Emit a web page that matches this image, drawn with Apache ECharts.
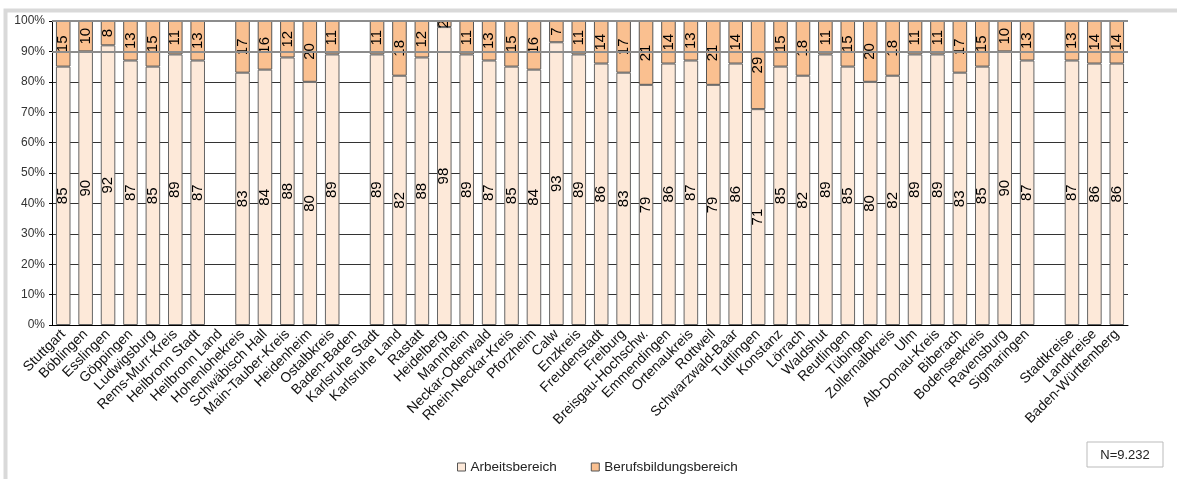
<!DOCTYPE html>
<html>
<head>
<meta charset="utf-8">
<script src="https://cdn.jsdelivr.net/npm/echarts@6/dist/echarts.min.js"></script>
<style>
html,body{margin:0;padding:0;background:#fff;}
#chart{width:1177px;height:479px;}
</style>
</head>
<body>
<div id="chart"></div>
<script>
const categories = ['Stuttgart','Böblingen','Esslingen','Göppingen','Ludwigsburg','Rems-Murr-Kreis','Heilbronn Stadt','Heilbronn Land','Hohenlohekreis','Schwäbisch Hall','Main-Tauber-Kreis','Heidenheim','Ostalbkreis','Baden-Baden','Karlsruhe Stadt','Karlsruhe Land','Rastatt','Heidelberg','Mannheim','Neckar-Odenwald','Rhein-Neckar-Kreis','Pforzheim','Calw','Enzkreis','Freudenstadt','Freiburg','Breisgau-Hochschw.','Emmendingen','Ortenaukreis','Rottweil','Schwarzwald-Baar','Tuttlingen','Konstanz','Lörrach','Waldshut','Reutlingen','Tübingen','Zollernalbkreis','Ulm','Alb-Donau-Kreis','Biberach','Bodenseekreis','Ravensburg','Sigmaringen','','Stadtkreise','Landkreise','Baden-Württemberg'];
const arbeitsbereich = [85,90,92,87,85,89,87,null,83,84,88,80,89,null,89,82,88,98,89,87,85,84,93,89,86,83,79,86,87,79,86,71,85,82,89,85,80,82,89,89,83,85,90,87,null,87,86,86];
const berufsbildungsbereich = [15,10,8,13,15,11,13,null,17,16,12,20,11,null,11,18,12,2,11,13,15,16,7,11,14,17,21,14,13,21,14,29,15,18,11,15,20,18,11,11,17,15,10,13,null,13,14,14];
const yTicks = [0,10,20,30,40,50,60,70,80,90,100];
const seriesNames = ['Arbeitsbereich','Berufsbildungsbereich'];
const noteText = 'N=9.232';

const FONT = '"Liberation Sans", Arial, sans-serif';
const chart = echarts.init(document.getElementById('chart'), null, {renderer:'canvas'});

const labelCfg = {
  show: true, position: 'inside', rotate: 90,
  color: '#000', fontSize: 15, fontFamily: FONT,
  formatter: p => (p.value == null ? '' : String(p.value))
};

chart.setOption({
  animation: false,
  backgroundColor: '#fff',
  textStyle: {fontFamily: FONT},
  grid: {left: 52, right: 49, top: 21, bottom: 154, containLabel: false},
  legend: {
    data: seriesNames,
    left: 452, top: 455,
    icon: 'rect', itemWidth: 8, itemHeight: 8, itemGap: 34,
    textStyle: {fontSize: 13.5, color: '#222', fontFamily: FONT},
    itemStyle: {borderColor: '#555', borderWidth: 1}
  },
  xAxis: {
    type: 'category', data: categories,
    axisLine: {show: true, lineStyle: {color: '#000', width: 1}},
    axisTick: {show: false},
    axisLabel: {interval: 0, rotate: 45, fontSize: 14, color: '#111', margin: 7, fontFamily: FONT},
    splitLine: {show: false}
  },
  yAxis: {
    type: 'value', min: 0, max: 100, interval: 10,
    axisLine: {show: true, lineStyle: {color: '#000', width: 1}},
    axisTick: {show: true, length: 3, lineStyle: {color: '#000'}},
    axisLabel: {formatter: v => (yTicks.includes(v) ? v + '%' : ''), fontSize: 12, color: '#333', margin: 7, fontFamily: FONT},
    splitLine: {show: true, lineStyle: {color: '#333', width: 1}}
  },
  series: [
    {
      name: seriesNames[0], type: 'bar', stack: 'total', data: arbeitsbereich,
      barWidth: '65%',
      itemStyle: {color: '#FDE9D9', borderColor: '#666', borderWidth: 1},
      label: labelCfg
    },
    {
      name: seriesNames[1], type: 'bar', stack: 'total', data: berufsbildungsbereich,
      barWidth: '65%',
      itemStyle: {color: '#FAC090', borderColor: '#555', borderWidth: 1},
      label: labelCfg,
      markLine: {
        silent: true, symbol: 'none', z: 10,
        label: {show: false},
        lineStyle: {color: '#8c8c8c', width: 2, type: 'solid'},
        data: [{yAxis: 90}, {yAxis: 100}]
      }
    }
  ],
  graphic: [
    {type: 'rect', left: 3, top: 8, silent: true, z: -10,
     shape: {x: 0, y: 0, width: 1400, height: 700},
     style: {fill: 'none', stroke: '#d9d9d9', lineWidth: 4}},
    {type: 'rect', silent: true, z: 5,
     shape: {x: 1087, y: 442, width: 76, height: 25},
     style: {fill: '#fff', stroke: '#bbb', lineWidth: 1}},
    {type: 'text', silent: true, z: 6, x: 1125, y: 455,
     style: {text: noteText, fill: '#222', font: '13px ' + FONT, textAlign: 'center', textVerticalAlign: 'middle'}}
  ]
});
</script>
</body>
</html>
